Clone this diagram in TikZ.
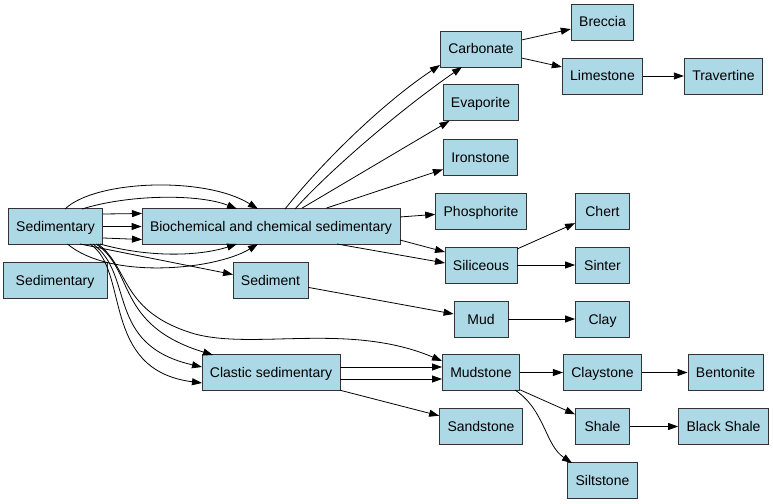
\documentclass[tikz,border=0pt]{standalone}
\usepackage{fontspec}
\setmainfont{Liberation Sans}
\usetikzlibrary{arrows.meta,calc}
\definecolor{boxfill}{HTML}{ADD8E6}
\begin{document}
\begin{tikzpicture}[x=1pt,y=-1pt,
  box/.style={draw=black!80,fill=boxfill,line width=0.8pt,minimum height=36pt,minimum width=54pt,inner xsep=8pt,inner ysep=0pt,text height=12pt,text depth=2pt,font=\fontsize{14}{16}\selectfont},
  edge/.style={draw=black,line width=0.8pt,-{Triangle[length=10pt,width=7pt]}}]
\useasboundingbox[fill=white] (0,0) rectangle (773,503);
% nodes
\node[box] (sed) at (55.5,226.5) {Sedimentary};
\node[box,minimum width=104pt] (sedb) at (55,280) {Sedimentary};
\node[box] (bio) at (271,226.5) {Biochemical and chemical sedimentary};
\node[box] (sediment) at (270.5,280.5) {Sediment};
\node[box] (clastic) at (271,372.5) {Clastic sedimentary};
\node[box] (carb) at (481,49) {Carbonate};
\node[box] (evap) at (480.5,102.5) {Evaporite};
\node[box] (iron) at (480.5,157) {Ironstone};
\node[box] (phos) at (481,211) {Phosphorite};
\node[box] (sil) at (481,265) {Siliceous};
\node[box] (mud) at (481,319) {Mud};
\node[box] (mudst) at (481,372.5) {Mudstone};
\node[box] (sand) at (481,426.5) {Sandstone};
\node[box] (brec) at (602.5,22) {Breccia};
\node[box] (lime) at (602.5,76) {Limestone};
\node[box] (trav) at (723.5,76) {Travertine};
\node[box] (chert) at (602.5,211) {Chert};
\node[box] (sinter) at (602.5,265) {Sinter};
\node[box] (clay) at (602.5,319) {Clay};
\node[box] (clayst) at (602.5,372.5) {Claystone};
\node[box] (bent) at (725.5,372.5) {Bentonite};
\node[box] (shale) at (602.5,426.5) {Shale};
\node[box] (bshale) at (723.5,426.5) {Black Shale};
\node[box] (silt) at (602.5,480.5) {Siltstone};
% Sedimentary -> Biochemical (7)
\draw[edge] ($(sed)+(9.5,-17.5)$) .. controls (95,180) and (205,176) .. ($(bio)+(-13,-17.5)$);
\draw[edge] ($(sed)+(26.5,-17.5)$) .. controls (130,194) and (200,194) .. ($(bio)+(-34,-17.5)$);
\draw[edge] ($(sed)+(47.5,-12.5)$) -- ($(bio)+(-129,-13)$);
\draw[edge] (sed.east) -- (bio.west);
\draw[edge] ($(sed)+(47.5,11.5)$) -- ($(bio)+(-129,13)$);
\draw[edge] ($(sed)+(44.5,17.5)$) .. controls (150,258) and (200,256) .. ($(bio)+(-34,17.5)$);
\draw[edge] ($(sed)+(12,17.5)$) .. controls (110,280) and (215,270) .. ($(bio)+(-13,17.5)$);
% Sedimentary -> Sediment
\draw[edge] ($(sed)+(24.5,17.5)$) .. controls (150,258) .. ($(sediment)+(-37.5,-6)$);
% Sedimentary -> Mudstone
\draw[edge] ($(sed)+(42.5,17.5)$) .. controls (130,268) and (120,312) .. (195,334) .. controls (255,350) and (350,322) .. ($(mudst)+(-39,-11.5)$);
% Sedimentary -> Clastic (3)
\draw[edge] ($(sed)+(40.5,17.5)$) .. controls (135,270) and (115,325) .. ($(clastic)+(-58,-17.5)$);
\draw[edge] ($(sed)+(37.5,17.5)$) .. controls (135,275) and (105,345) .. ($(clastic)+(-69,-5.5)$);
\draw[edge] ($(sed)+(34.5,17.5)$) .. controls (130,270) and (100,370) .. ($(clastic)+(-69,10.5)$);
% Biochemical -> ...
\draw[edge] ($(bio)+(14,-17.5)$) .. controls (320,165) and (380,105) .. ($(carb)+(-41,16)$);
\draw[edge] ($(bio)+(24,-17.5)$) .. controls (330,170) and (400,110) .. ($(carb)+(-19,18)$);
\draw[edge] (bio) -- (evap);
\draw[edge] (bio) -- (iron);
\draw[edge] (bio) -- (phos);
\draw[edge] ($(bio)+(129,13.5)$) -- ($(sil)+(-36,-13)$);
\draw[edge] ($(bio)+(66,17.5)$) -- ($(sil)+(-36,-2)$);
% Sediment -> Mud
\draw[edge] (sediment) -- (mud);
% Clastic -> ...
\draw[edge] ($(clastic)+(69,-5.5)$) -- ($(mudst)+(-39,-5.5)$);
\draw[edge] ($(clastic)+(69,6.5)$) -- ($(mudst)+(-39,6.5)$);
\draw[edge] (clastic) -- (sand);
% right side
\draw[edge] (carb) -- (brec);
\draw[edge] (carb) -- (lime);
\draw[edge] (lime) -- (trav);
\draw[edge] (sil) -- (chert);
\draw[edge] (sil) -- (sinter);
\draw[edge] (mud) -- (clay);
\draw[edge] (mudst) -- (clayst);
\draw[edge] (mudst) -- (shale);
\draw[edge] ($(mudst)+(34,17.5)$) .. controls (545,410) and (545,445) .. ($(silt)+(-30.5,-17.5)$);
\draw[edge] (clayst) -- (bent);
\draw[edge] (shale) -- (bshale);
\end{tikzpicture}
\end{document}
